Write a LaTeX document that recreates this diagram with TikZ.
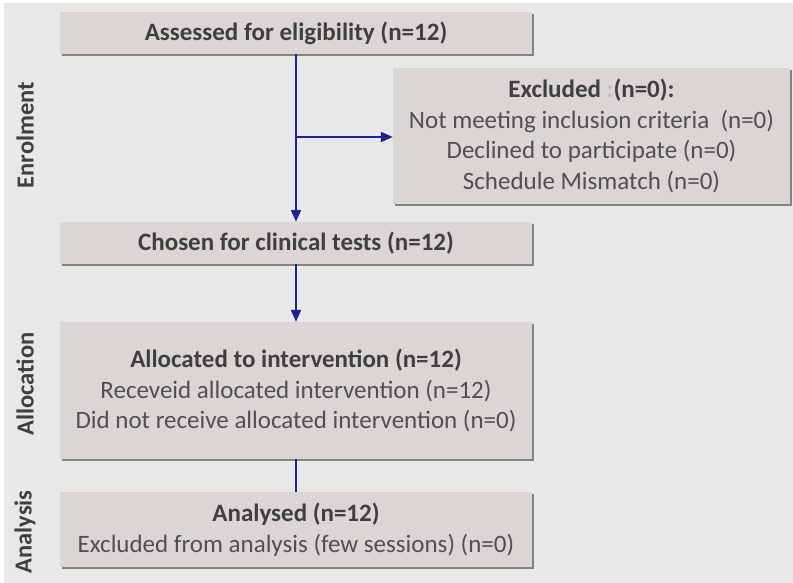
\documentclass[tikz,border=0pt]{standalone}
\usepackage{fontspec}
\setmainfont{Carlito}
\usetikzlibrary{arrows.meta,shadows}

\definecolor{bggrey}{HTML}{E8E8E8}
\definecolor{boxgrey}{HTML}{D9D6D3}
\definecolor{txtdark}{HTML}{3F3F3F}
\definecolor{txtgrey}{HTML}{505050}
\definecolor{flowblue}{HTML}{22228C}

\newcommand{\boxtitle}[1]{{\color{txtdark}\bfseries #1}}

\tikzset{
	stagebox/.style={fill=boxgrey, draw=none, align=center, text=txtgrey,
		font=\fontsize{25}{30.5}\selectfont,
		drop shadow={shadow xshift=2pt, shadow yshift=-2pt, fill=black!65, opacity=0.7}},
	phase/.style={rotate=90, text=txtdark, font=\fontsize{24.5}{28}\selectfont\bfseries},
	flow/.style={draw=flowblue, line width=2pt},
	flowarrow/.style={flow, -{Triangle[length=12pt,width=10pt]}},
}

\begin{document}
\begin{tikzpicture}[x=1pt, y=-1pt]
			\useasboundingbox (0,0) rectangle (793,583);
			\fill[bggrey] (4,3) rectangle (793,583);

			% enrolment
			\node[stagebox, minimum width=472pt, minimum height=42pt] (assess) at(296,33)
				{\boxtitle{Assessed for eligibility (n=12)}};
			\node[stagebox, minimum width=397pt, minimum height=136pt] (excl) at(591.5,136)
				{\boxtitle{Excluded {\color{black!25}:}(n=0):}\\
				 Not meeting inclusion criteria\ \ (n=0)\\
				 Declined to participate (n=0)\\
				 Schedule Mismatch (n=0)};
			\node[stagebox, minimum width=472pt, minimum height=42pt] (chosen) at(296,243)
				{\boxtitle{Chosen for clinical tests (n=12)}};

			% allocation
			\node[stagebox, minimum width=472pt, minimum height=137pt] (alloc) at(296,390.5)
				{\boxtitle{Allocated to intervention (n=12)}\\
				 Receveid allocated intervention (n=12)\\
				 Did not receive allocated intervention (n=0)};

			% analysis
			\node[stagebox, minimum width=472pt, minimum height=75pt] (analys) at(296,529.5)
				{\boxtitle{Analysed (n=12)}\\
				 Excluded from analysis (few sessions) (n=0)};

			\node[phase] (enrol) at(25,135){Enrolment};
			\node[phase] (allocphase) at(25,384){Allocation};
			\node[phase] (analysphase) at(25,532){Analysis};

			\coordinate (split) at(296,137);
			\draw[flowarrow] (assess.south) to (chosen.north);
			\draw[flowarrow] (split) to (excl.west |- split);
			\draw[flowarrow] (chosen.south) to (alloc.north);
			\draw[flow] (alloc.south) to (analys.north);
\end{tikzpicture}
\end{document}
